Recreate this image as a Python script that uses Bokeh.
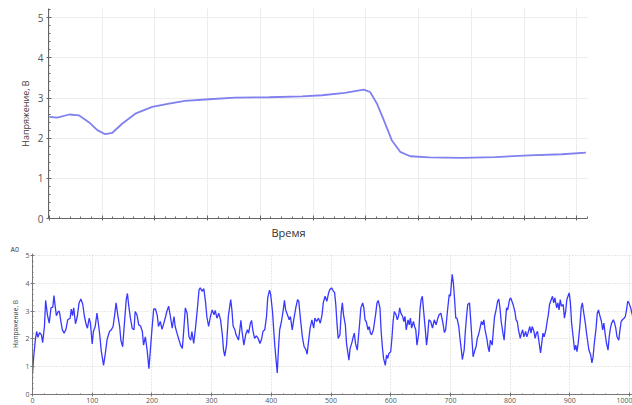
from bokeh.plotting import figure
from bokeh.layouts import column
from bokeh.models import Range1d, SingleIntervalTicker, Title
from bokeh.embed import file_html
from bokeh.resources import INLINE

# ---- data: top chart (time in arbitrary units, voltage) ----
top_t = [0.0, 0.15, 0.38, 0.56, 0.75, 0.91, 1.06, 1.19, 1.38, 1.63, 1.95, 2.27, 2.57, 3.03,
         3.52, 4.16, 4.79, 5.17, 5.60, 5.96, 6.08, 6.21, 6.34, 6.49, 6.65, 6.84, 7.20, 7.82,
         8.45, 9.09, 9.72, 10.17]
top_v = [2.53, 2.51, 2.59, 2.57, 2.40, 2.20, 2.10, 2.13, 2.36, 2.61, 2.78, 2.86, 2.93, 2.97,
         3.01, 3.02, 3.04, 3.07, 3.13, 3.21, 3.15, 2.86, 2.45, 1.95, 1.66, 1.55, 1.52, 1.51,
         1.53, 1.57, 1.60, 1.64]
top_ticks = list(range(0, 11))

# ---- data: bottom chart (sample index, voltage) ----
a0_s = [0, 2, 5, 7, 9, 12, 15, 17, 20, 22, 25, 28, 31, 34, 36, 38, 40, 43, 45, 48, 50, 53, 56, 59,
        63, 65, 67, 69, 72, 75, 78, 81, 84, 87, 90, 92, 95, 97, 100, 102, 105, 108, 111, 113, 115,
        119, 122, 125, 129, 132, 135, 138, 140, 143, 146, 148, 151, 154, 157, 159, 161,
        164, 167, 170, 172, 175, 178, 181, 184, 186, 189, 192, 195, 197, 200, 203, 206, 209, 211,
        214, 217, 220, 223, 225, 228, 231, 234, 237, 239, 242, 245, 248, 251, 253, 256, 259, 262,
        265, 267, 270, 273, 276, 279, 281, 284, 287, 290, 292, 295, 298, 301, 304, 306, 309, 312,
        315, 318, 320, 322, 325, 328,
        332, 334, 336, 339, 341, 345, 347, 349, 351, 354, 357, 360, 362, 365, 367, 369, 372, 375,
        378, 381, 384, 386, 389, 392, 394, 397, 399, 402, 404, 406, 408, 410, 412, 414, 417, 420,
        422, 424, 427, 430, 432, 435, 438, 441, 444, 446, 449, 452, 455, 458, 460, 462, 465, 468,
        471, 473, 476, 479, 482, 485, 487, 490, 493, 496, 498, 501, 504,
        506, 508, 510, 512, 515, 517, 519, 521, 524, 526, 528, 530, 532, 535, 537, 539, 541, 544,
        546, 548, 550, 553, 555, 557, 559, 562, 564, 566, 568, 571, 573, 575, 577, 579, 582, 584,
        586, 588, 591, 593, 595, 597, 600, 602, 604, 606, 609, 611, 613, 615, 617, 620, 622, 624,
        626, 629, 631, 633, 635, 638, 640, 642, 644, 647, 649, 651, 653, 655, 658, 660, 662, 664,
        667, 670, 673, 676, 679, 681, 684, 687, 690, 692, 695, 698, 700, 703, 705, 707, 709, 711,
        714, 716, 718, 720, 723, 725, 727, 729, 732, 734, 736, 738, 741, 743, 745, 747, 749, 752,
        754, 756, 758, 761, 763, 765, 767, 770, 772, 774, 776, 779, 781, 783, 785, 788, 790, 792,
        794, 796, 799, 801, 803, 805, 808, 810, 812, 814, 817, 819, 821, 823, 826, 828, 830,
        833, 835, 837, 840, 842, 844, 846, 848, 851, 853, 855, 857, 860, 862, 864, 866, 869, 871,
        873, 875, 878, 880, 882, 884, 886, 889, 891, 893, 895, 898, 899, 901, 903, 906, 908, 910,
        912, 914, 917, 919, 921, 923, 926, 928, 930, 932, 935, 937, 939, 941, 944, 946, 948, 950,
        953, 955, 957, 959, 961, 964, 966, 968, 970, 973, 975, 977, 979, 982, 984, 986, 988, 991,
        993, 995, 997, 999, 1002, 1004, 1006]
a0_v = [0.75, 1.36, 2.02, 2.27, 2.06, 2.23, 2.15, 1.87, 2.45, 3.39, 2.87, 2.57, 3.12, 3.15, 3.56,
        3.18, 2.84, 2.99, 2.99, 2.57, 2.33, 2.21, 2.35, 2.69, 2.75, 3.08, 2.84, 3.12, 2.55, 2.81,
        3.30, 3.44, 3.27, 2.81, 2.51, 2.39, 2.75, 2.57, 1.82, 2.27, 2.45, 2.93, 2.45, 2.08, 1.60,
        1.05, 1.48, 1.99, 2.27, 2.33, 2.45, 2.93, 3.30, 2.84, 2.45, 1.96, 1.72, 2.57, 3.42, 3.64, 3.24,
        2.75, 2.39, 2.33, 2.99, 2.87, 2.51, 2.47, 2.27, 1.78, 2.08, 1.60, 0.93, 1.48, 2.33, 3.08,
        3.08, 2.84, 2.45, 2.63, 2.35, 2.57, 2.81, 2.99, 3.18, 2.81, 2.39, 2.81, 2.45, 2.21, 1.99,
        1.78, 1.66, 2.21, 3.12, 2.93, 2.08, 1.96, 2.27, 1.84, 2.39, 3.05, 3.78, 3.84, 3.72, 3.81,
        3.30, 2.81, 2.45, 2.81, 3.05, 2.87, 3.03, 2.75, 2.93, 2.69, 2.15, 1.60, 1.38, 1.78, 2.81,
        3.42, 3.05, 2.47, 2.33, 2.15, 1.96, 2.27, 2.67, 2.27, 1.78, 2.15, 2.33, 2.21, 2.57, 2.67,
        2.33, 2.02, 2.11, 2.02, 1.84, 2.02, 2.27, 2.33, 2.81, 3.48, 3.76, 3.60, 2.99, 2.33, 1.72,
        1.24, 0.78, 1.66, 2.33, 2.63, 3.05, 3.39, 3.05, 2.87, 2.69, 2.81, 2.33, 2.75, 3.12, 3.42,
        3.36, 2.69, 2.08, 1.72, 1.62, 1.45, 1.84, 2.39, 2.69, 2.39, 2.75, 2.63, 2.75, 2.57, 2.87,
        3.30, 3.54, 3.36, 3.66, 3.78, 3.84, 3.72,
        3.68, 3.24, 2.57, 2.02, 2.15, 2.93, 3.30, 2.87, 2.51, 1.84, 1.54, 1.24, 1.66, 1.87, 2.06,
        2.21, 1.84, 1.60, 2.08, 2.57, 3.12, 3.30, 3.12, 2.69, 2.63, 2.33, 2.45, 2.21, 2.15, 2.33,
        2.63, 2.93, 3.30, 3.39, 3.12, 2.27, 1.72, 1.30, 1.05, 1.42, 1.30, 1.48, 1.54, 2.02, 2.63,
        2.99, 2.87, 2.69, 2.81, 3.12, 2.93, 2.81, 2.63, 2.81, 2.33, 2.69, 2.51, 2.75, 2.39, 2.63,
        2.45, 2.33, 1.78, 2.21, 3.05, 3.42, 3.54, 3.05, 2.33, 1.78, 2.15, 2.69,
        2.63, 2.39, 2.69, 2.51, 2.75, 2.87, 2.93, 2.63, 2.23, 2.33, 2.99, 3.60, 3.54, 4.33, 4.02,
        3.42, 2.75, 2.75, 2.45, 2.02, 1.66, 1.26, 1.60, 2.27, 2.81, 3.24, 3.30, 2.69, 2.02, 1.36,
        1.60, 1.72, 2.02, 2.15, 2.33, 2.63, 2.51, 2.69, 2.33, 2.02, 1.72, 1.54, 1.96, 1.78, 2.33,
        2.81, 2.99, 3.36, 3.44, 3.12, 2.63, 2.21, 1.96, 2.57, 3.12, 3.05, 3.42, 3.48, 3.36, 3.24,
        2.99, 2.69, 2.63, 2.33, 2.02, 2.21, 2.33, 2.08, 2.27, 2.08, 2.21,
        2.45, 2.21, 2.45, 2.27, 2.02, 2.21, 2.27, 1.96, 1.50, 1.84, 2.21, 2.08, 2.33, 2.63, 2.87,
        3.24, 3.42, 3.54, 3.30, 3.48, 3.12, 3.30, 3.05, 3.42, 3.18, 3.24, 2.75, 2.99, 3.42, 3.60,
        3.66, 3.30, 2.57, 1.99, 1.60, 1.78, 1.54, 1.84, 2.51, 3.12, 3.30, 2.99, 2.57, 2.21, 1.90,
        1.60, 1.42, 1.14, 1.36, 1.84, 2.39, 2.93, 3.05, 2.87, 2.63, 2.33, 2.57, 2.21, 1.90, 1.60,
        2.08, 2.39, 2.57, 2.69, 2.57, 2.39, 2.08, 1.96, 2.33, 2.63, 2.69, 2.75, 2.81, 3.05, 3.36,
        3.30, 3.12, 2.93, 2.75]

y_label = "Напряжение, В"
x_label = "Время"
a0_title = "A0"
FONT = "Open Sans"

# ---------------- top chart ----------------
p1 = figure(width=632, height=242, x_range=Range1d(-0.015, 10.2), y_range=Range1d(0, 5.23),
            output_backend="svg", toolbar_location=None, frame_align=False,
            min_border_left=48, min_border_right=45, min_border_top=8, min_border_bottom=24)
p1.outline_line_color = None
p1.background_fill_color = "white"
p1.border_fill_color = "white"
p1.line(top_t, top_v, line_color="#8080f0", line_width=1.8)

p1.xaxis.ticker = SingleIntervalTicker(interval=1, num_minor_ticks=5)
p1.yaxis.ticker = SingleIntervalTicker(interval=1, num_minor_ticks=5)
for ax in (p1.xaxis, p1.yaxis):
    ax.axis_line_color = "#666666"
    ax.major_tick_line_color = "#666666"
    ax.minor_tick_line_color = "#666666"
    ax.major_tick_in = 3
    ax.major_tick_out = 2
    ax.minor_tick_in = 2
    ax.minor_tick_out = 0
p1.xaxis.major_label_overrides = {t: "" for t in top_ticks}
p1.xaxis.major_label_standoff = 0
p1.yaxis.major_label_text_font_size = "10px"
p1.yaxis.major_label_text_color = "#555555"
p1.yaxis.major_label_text_font = FONT
p1.yaxis.major_label_standoff = 3
p1.yaxis.axis_label = y_label
p1.yaxis.axis_label_text_font = FONT
p1.yaxis.axis_label_text_font_size = "9px"
p1.yaxis.axis_label_text_font_style = "normal"
p1.yaxis.axis_label_text_color = "#4d3b3b"
p1.yaxis.axis_label_standoff = 3
p1.xgrid.grid_line_color = "#ececec"
p1.ygrid.grid_line_color = "#ececec"
p1.add_layout(Title(text=x_label, align="left", offset=223, standoff=5,
                    text_font=FONT, text_font_size="11px", text_font_style="normal",
                    text_color="#333333"), "below")

# ---------------- bottom chart ----------------
p2 = figure(width=632, height=163, x_range=Range1d(0, 1005), y_range=Range1d(0, 5.08),
            output_backend="svg", toolbar_location=None, frame_align=False,
            min_border_left=32, min_border_right=0, min_border_top=0, min_border_bottom=11)
p2.outline_line_color = None
p2.background_fill_color = "white"
p2.border_fill_color = "white"
p2.line(a0_s, a0_v, line_color="#3838ff", line_width=1.3)
p2.add_layout(Title(text=a0_title, align="left", offset=-22, standoff=0,
                    text_font=FONT, text_font_size="7px", text_font_style="normal",
                    text_color="#333333"), "above")

p2.xaxis.ticker = SingleIntervalTicker(interval=100, num_minor_ticks=5)
p2.yaxis.ticker = SingleIntervalTicker(interval=1, num_minor_ticks=5)
for ax in (p2.xaxis, p2.yaxis):
    ax.axis_line_color = "#777777"
    ax.major_tick_line_color = "#777777"
    ax.minor_tick_line_color = "#777777"
    ax.major_tick_in = 2
    ax.major_tick_out = 2
    ax.minor_tick_in = 1
    ax.minor_tick_out = 0
    ax.major_label_text_font_size = "7px"
    ax.major_label_text_color = "#555555"
    ax.major_label_text_font = FONT
    ax.major_label_standoff = 1
p2.yaxis.axis_label = y_label
p2.yaxis.axis_label_text_font = FONT
p2.yaxis.axis_label_text_font_size = "6.5px"
p2.yaxis.axis_label_text_font_style = "normal"
p2.yaxis.axis_label_text_color = "#444444"
p2.yaxis.axis_label_standoff = 2
p2.xgrid.grid_line_color = "#d0d0d0"
p2.ygrid.grid_line_color = "#d0d0d0"
p2.xgrid.grid_line_dash = "1 2"
p2.ygrid.grid_line_dash = "1 2"

layout = column(p1, p2, spacing=0)
open("out.html", "w").write(file_html(layout, INLINE))
